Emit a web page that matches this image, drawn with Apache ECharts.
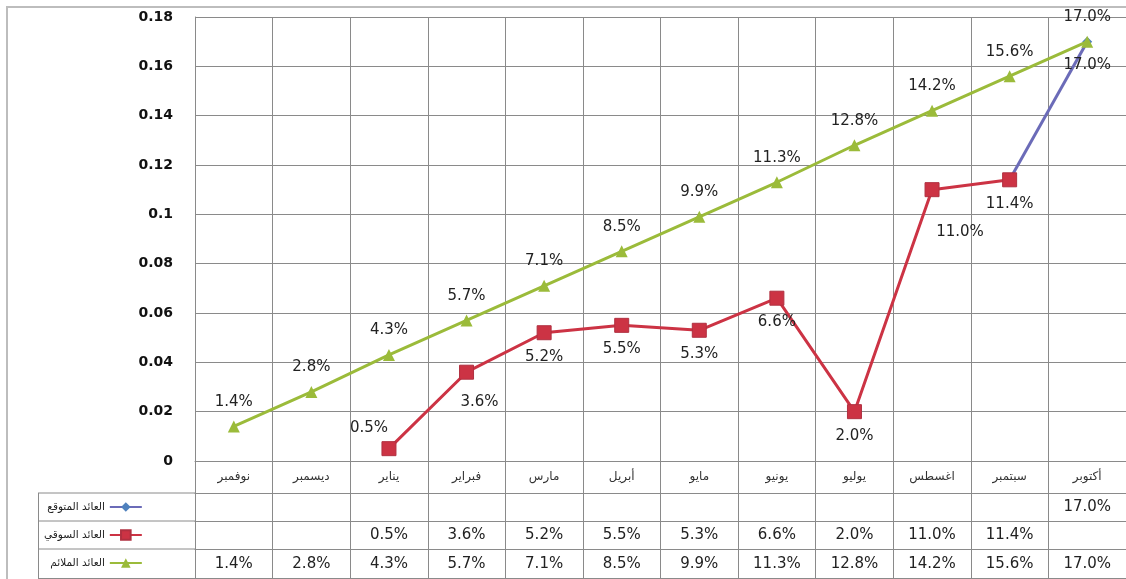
<!DOCTYPE html>
<html><head><meta charset="utf-8">
<script src="https://cdn.jsdelivr.net/npm/echarts@6/dist/echarts.min.js"></script>
<style>html,body{margin:0;padding:0;background:#fff}#c{width:1126px;height:579px}</style>
</head><body><div id="c"></div>
<script>
const categories = ['نوفمبر','ديسمبر','يناير','فبراير','مارس','أبريل','مايو','يونيو','يوليو','اغسطس','سبتمبر','أكتوبر'];
const seriesNames = ['العائد المتوقع','العائد السوقي','العائد الملائم'];
const expected = [null,null,null,null,null,null,null,null,null,null,null,0.170];
const market = [null,null,0.005,0.036,0.052,0.055,0.053,0.066,0.020,0.110,0.114,null];
const total = [0.014,0.028,0.043,0.057,0.071,0.085,0.099,0.113,0.128,0.142,0.156,0.170];
const yTicks = {min:0, max:0.18, interval:0.02};

const pct = v => (v == null ? '' : (v*100).toFixed(1) + '%');
const FONT = 'DejaVu Sans';
const GRID = '#8a8a8a';
const GREEN = '#9bbb3a', RED = '#cc3344', BLUE = '#4f81bd', BLUE_LINE = '#6b6bb8';

// expected line starts from last market point (connector as in the original)
const expectedLine = expected.map((v,i) => (v == null && i === 10 ? market[10] : v));
const expectedData = expectedLine.map((v,i) => v == null ? null :
  (expected[i] == null ? {value:v, symbol:'none', label:{show:false}} : v));

const marketLabelOffsets = {2:[-20,-45], 3:[13,6], 9:[28,18]};
const marketData = market.map((v,i) => (v != null && marketLabelOffsets[i]) ?
  {value:v, label:{offset:marketLabelOffsets[i]}} : v);

const labelStyle = {fontFamily:FONT, fontSize:15, color:'#222'};

function tableAxis(values, offset, rowH){
  return {
    type:'category', position:'bottom', offset:offset, gridIndex:0,
    data: values.map(pct),
    axisLine:{show:true, lineStyle:{color:GRID, width:1}},
    axisTick:{show:true, alignWithLabel:false, length:rowH, lineStyle:{color:GRID}},
    axisLabel:{show:true, interval:0, margin:Math.round(rowH/2), verticalAlign:'middle',
      fontFamily:FONT, fontSize:15, color:'#222'},
    splitLine:{show:false}
  };
}

const chart = echarts.init(document.getElementById('c'));
chart.setOption({
  animation:false,
  backgroundColor:'#fff',
  grid:{left:195, top:17, width:936, height:444, containLabel:false},
  legend:{
    orient:'vertical', left:44, top:501, align:'right', padding:0,
    itemWidth:32, itemHeight:12, itemGap:16,
    textStyle:{fontFamily:FONT, fontSize:10.5, lineHeight:12, color:'#222', padding:[0,0,0,0]},
    data:seriesNames
  },
  xAxis:[
    {
      type:'category', data:categories, boundaryGap:true,
      axisLine:{show:true, lineStyle:{color:GRID}},
      axisTick:{show:true, alignWithLabel:false, length:32, lineStyle:{color:GRID}},
      axisLabel:{interval:0, margin:16, verticalAlign:'middle', fontFamily:FONT, fontSize:12, color:'#333'},
      splitLine:{show:true, interval:0, lineStyle:{color:GRID, width:1}}
    },
    tableAxis(expected, 32, 28),
    tableAxis(market, 60, 28),
    tableAxis(total, 88, 30)
  ],
  yAxis:{
    type:'value', min:yTicks.min, max:yTicks.max, interval:yTicks.interval,
    axisLine:{show:true, lineStyle:{color:GRID}},
    axisTick:{show:false},
    axisLabel:{margin:22, fontFamily:FONT, fontSize:14, fontWeight:'bold', color:'#111'},
    splitLine:{show:true, lineStyle:{color:GRID, width:1}}
  },
  series:[
    {
      name:seriesNames[0], type:'line', data:expectedData, connectNulls:false,
      symbol:'diamond', symbolSize:10, z:3,
      lineStyle:{color:BLUE_LINE, width:3}, itemStyle:{color:BLUE},
      label:{show:true, position:'bottom', distance:11, formatter:p => pct(p.value), ...labelStyle}
    },
    {
      name:seriesNames[1], type:'line', data:marketData,
      symbol:'rect', symbolSize:14, z:4,
      lineStyle:{color:RED, width:3}, itemStyle:{color:RED, borderColor:'#b03040', borderWidth:1},
      label:{show:true, position:'bottom', distance:9, formatter:p => pct(p.value), ...labelStyle}
    },
    {
      name:seriesNames[2], type:'line', data:total,
      symbol:'triangle', symbolSize:12, z:5,
      lineStyle:{color:GREEN, width:3}, itemStyle:{color:GREEN},
      label:{show:true, position:'top', distance:11, formatter:p => pct(p.value), ...labelStyle}
    }
  ],
  graphic:[
    {type:'rect', shape:{x:7, y:7, width:1140, height:600}, style:{fill:null, stroke:'#bdbdbd', lineWidth:2}, silent:true},
    {type:'line', shape:{x1:38, y1:493, x2:195, y2:493}, style:{stroke:GRID, lineWidth:1}},
    {type:'line', shape:{x1:38, y1:521, x2:195, y2:521}, style:{stroke:GRID, lineWidth:1}},
    {type:'line', shape:{x1:38, y1:549, x2:195, y2:549}, style:{stroke:GRID, lineWidth:1}},
    {type:'line', shape:{x1:38, y1:578.5, x2:1126, y2:578.5}, style:{stroke:GRID, lineWidth:1}},
    {type:'line', shape:{x1:38.5, y1:493, x2:38.5, y2:579}, style:{stroke:GRID, lineWidth:1}}
  ]
});
</script>
</body></html>
